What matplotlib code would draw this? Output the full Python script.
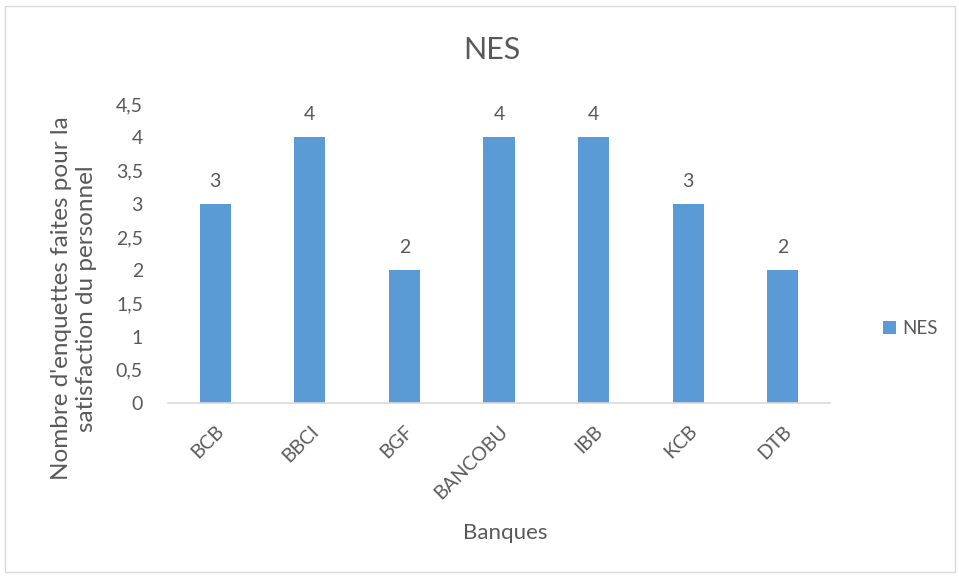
import matplotlib.pyplot as plt
from matplotlib.patches import Rectangle

banques = ["BCB", "BBCI", "BGF", "BANCOBU", "IBB", "KCB", "DTB"]
nes = [3, 4, 2, 4, 4, 3, 2]
yticks = [0, 0.5, 1, 1.5, 2, 2.5, 3, 3.5, 4, 4.5]
ytick_labels = ["0", "0,5", "1", "1,5", "2", "2,5", "3", "3,5", "4", "4,5"]

plt.rcParams["font.family"] = ["Lato", "DejaVu Sans"]
txt = "#595959"
bar_color = "#5B9BD5"
grid = "#D9D9D9"

fig = plt.figure(figsize=(9.59, 5.78), dpi=100)
ax = fig.add_axes((168 / 959, 1 - 403 / 578, 662 / 959, 299 / 578))

x = range(len(banques))
bars = ax.bar(x, nes, width=0.33, color=bar_color, label="NES")
ax.bar_label(bars, labels=[str(v) for v in nes], padding=10, fontsize=14, color=txt)

ax.set_xlim(-0.5, len(banques) - 0.5)
ax.set_ylim(0, 4.5)
ax.set_yticks(yticks)
ax.set_yticklabels(ytick_labels)
ax.set_xticks(list(x))
ax.set_xticklabels(banques, rotation=45, ha="right", rotation_mode="anchor")
ax.tick_params(axis="both", length=0, labelsize=14, colors=txt)
ax.tick_params(axis="y", pad=18)
ax.tick_params(axis="x", pad=14)

for side in ["top", "right", "left"]:
    ax.spines[side].set_visible(False)
ax.spines["bottom"].set_color(grid)
ax.spines["bottom"].set_linewidth(1.2)

ax.set_ylabel("Nombre d'enquettes faites pour la\nsatisfaction du personnel",
              fontsize=17.5, color=txt)
ax.yaxis.set_label_coords(-0.108, 0.35)
ax.set_xlabel("Banques", fontsize=16, color=txt)
ax.xaxis.set_label_coords(0.51, -0.40)

fig.text(492 / 959, 1 - 50 / 578, "NES", fontsize=22, color=txt, ha="center", va="center")

ax.legend(loc="center left", bbox_to_anchor=(1.055, 0.25), frameon=False,
          fontsize=13.5, labelcolor=txt, handlelength=0.7, handleheight=0.7,
          handletextpad=0.3)

fig.patches.append(Rectangle((5 / 959, 6 / 578), 950 / 959, 566 / 578,
                             transform=fig.transFigure, fill=False,
                             edgecolor=grid, linewidth=1))

fig.savefig("out.png", dpi=100)
